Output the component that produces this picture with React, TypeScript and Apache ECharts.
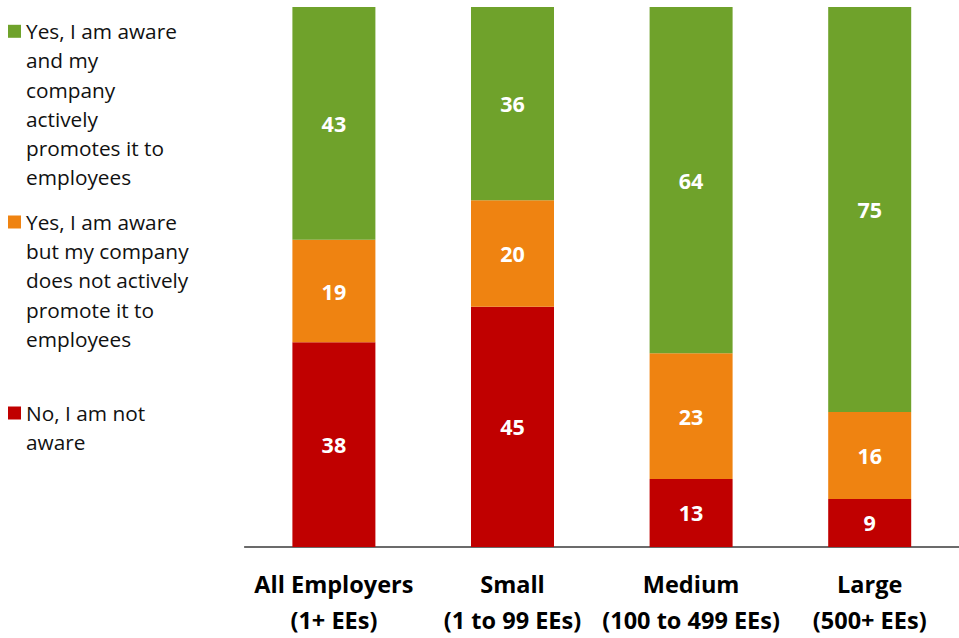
import React, { useEffect, useRef } from "react";
import * as echarts from "echarts";

const categories = [
  "All Employers\n(1+ EEs)",
  "Small\n(1 to 99 EEs)",
  "Medium\n(100 to 499 EEs)",
  "Large\n(500+ EEs)",
];
const seriesNames = [
  "No, I am not aware",
  "Yes, I am aware but my company does not actively promote it to employees",
  "Yes, I am aware and my company actively promotes it to employees",
];
const legendLines: Record<string, string[]> = {
  [seriesNames[2]]: ["Yes, I am aware", "and my", "company", "actively", "promotes it to", "employees"],
  [seriesNames[1]]: ["Yes, I am aware", "but my company", "does not actively", "promote it to", "employees"],
  [seriesNames[0]]: ["No, I am not", "aware"],
};
const notAware = [37.9, 44.5, 12.6, 8.9];
const awareNotPromoted = [19.0, 19.7, 23.3, 16.1];
const awarePromoted = [43.1, 35.8, 64.1, 75.0];
const colors = ["#C00000", "#EF8311", "#6FA22B"];

const FONT = "'Open Sans', 'Noto Sans', sans-serif";
const LH = 29.2;

function legendFor(name: string, color: string, iconCenter: number) {
  const lines = legendLines[name];
  const n = lines.length;
  // pad with empty lines above so the first line is centred on the icon
  const text = new Array(n - 1).fill("").concat(lines).join("\n");
  const blockH = (2 * n - 1) * LH;
  return {
    left: 8,
    top: iconCenter - blockH / 2,
    padding: 0,
    orient: "vertical",
    selectedMode: false,
    itemWidth: 13,
    itemHeight: 13,
    icon: "rect",
    data: [{ name, itemStyle: { color } }],
    formatter: () => text,
    textStyle: {
      fontFamily: FONT,
      fontSize: 20.8,
      color: "#111",
      lineHeight: LH,
    },
  };
}

export default function App() {
  const ref = useRef<HTMLDivElement>(null);
  useEffect(() => {
    if (!ref.current) return;
    const chart = echarts.init(ref.current, undefined, { renderer: "svg" });
    const data = [notAware, awareNotPromoted, awarePromoted];
    chart.setOption({
      animation: false,
      textStyle: { fontFamily: FONT },
      legend: [
        legendFor(seriesNames[2], colors[2], 31.3),
        legendFor(seriesNames[1], colors[1], 222),
        legendFor(seriesNames[0], colors[0], 413),
      ],
      grid: { left: 244.6, right: -11, top: 7, bottom: 89.5, containLabel: false },
      xAxis: {
        type: "category",
        data: categories,
        axisLine: { lineStyle: { color: "#3a3a3a", width: 1.5 } },
        axisTick: { show: false },
        axisLabel: {
          fontFamily: FONT,
          fontSize: 23.5,
          fontWeight: "bold",
          color: "#000",
          lineHeight: 36,
          margin: 19,
          interval: 0,
        },
      },
      yAxis: { type: "value", min: 0, max: 100, show: false, splitLine: { show: false } },
      series: seriesNames.map((name, i) => ({
        name,
        type: "bar",
        stack: "total",
        barWidth: 83,
        data: data[i],
        itemStyle: { color: colors[i] },
        label: {
          show: true,
          position: "inside",
          color: "#fff",
          fontFamily: FONT,
          fontWeight: "bold",
          fontSize: 21.5,
          formatter: (p: any) => String(Math.round(p.value)),
        },
      })),
    });
    return () => chart.dispose();
  }, []);
  return (
    <div
      ref={ref}
      style={{ position: "absolute", left: 0, top: 0, width: 959, height: 638 }}
    />
  );
}
